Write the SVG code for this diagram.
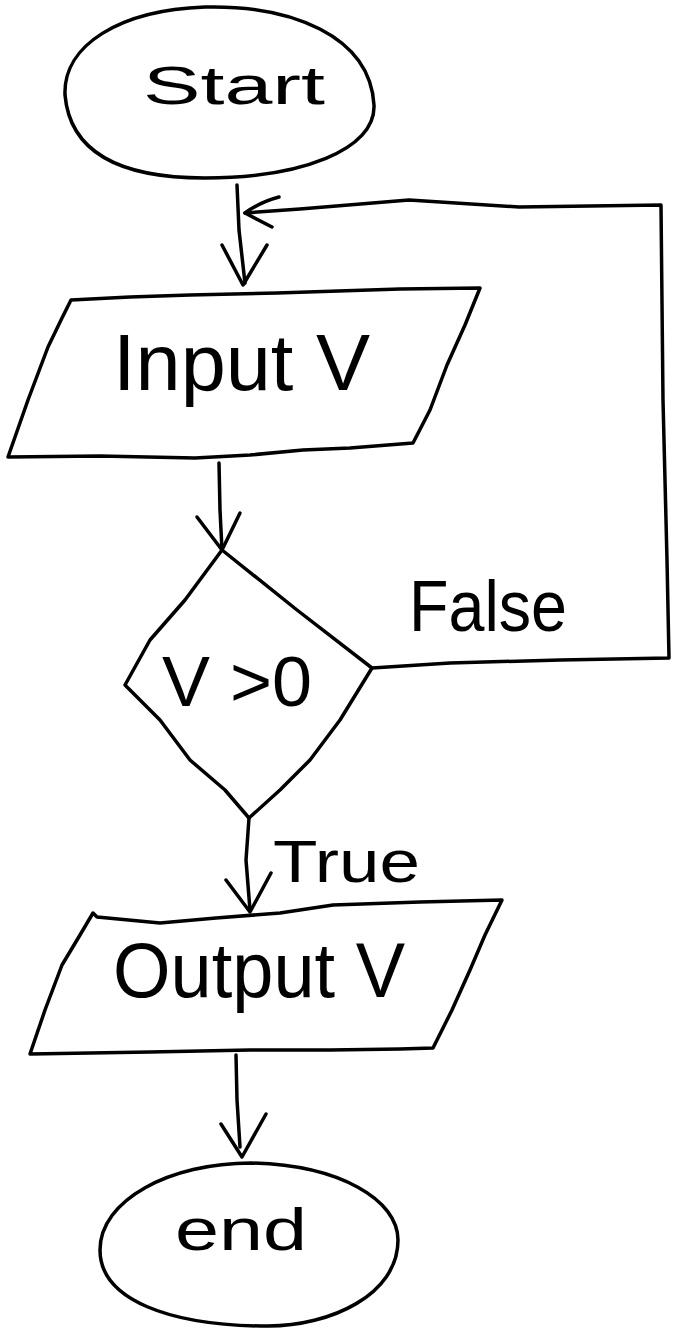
<svg xmlns="http://www.w3.org/2000/svg" width="676" height="1333" viewBox="0 0 676 1333">
<style>
.s{fill:none;stroke:#000;stroke-width:3.5;stroke-linecap:round;stroke-linejoin:round}
.t{font-family:"Liberation Sans","DejaVu Sans",sans-serif;fill:#000}
</style>
<rect width="676" height="1333" fill="#fff"/>
<g id="start">
<path class="s" d="M65,95 C63,45 120,10 205,7 C290,5 370,35 374,105 C376,150 300,178 205,178 C120,178 70,152 65,95 Z"/>
<text class="t" x="143" y="104" font-size="54" textLength="182" lengthAdjust="spacingAndGlyphs">Start</text>
</g>
<g id="input">
<path class="s" d="M71,300 L130,297 L190,295 L277,293 L400,289 L480,288 L465,325 L447,365 L430,410 L413,443 L350,448 L303,450 L250,455 L195,458 L100,456 L8,457 L28,400 L48,347 L62,318 Z"/>
<text class="t" x="113" y="390" font-size="80" textLength="257" lengthAdjust="spacingAndGlyphs">Input V</text>
</g>
<g id="decision">
<path class="s" d="M222,550 L297,610 L372,668 L340,720 L310,760 L280,790 L249,818 L225,790 L190,760 L160,720 L125,685 L150,640 L185,600 Z"/>
<text class="t" x="162" y="706" font-size="70" textLength="150" lengthAdjust="spacingAndGlyphs">V &gt;0</text>
</g>
<g id="output">
<path class="s" d="M93,913 L97,917 L160,923 L216,918 L280,913 L333,905 L420,902 L502,900 L485,935 L470,970 L452,1010 L433,1048 L400,1049 L330,1050 L250,1050 L150,1052 L30,1054 L45,1010 L62,965 L80,935 Z"/>
<text class="t" x="113" y="997" font-size="78" textLength="292" lengthAdjust="spacingAndGlyphs">Output V</text>
</g>
<g id="end">
<path class="s" d="M100,1250 C100,1200 170,1163 251,1163 C340,1165 398,1200 398,1240 C398,1295 330,1326 268,1326 C170,1326 100,1300 100,1250 Z"/>
<text class="t" x="175" y="1250" font-size="60" textLength="132" lengthAdjust="spacingAndGlyphs">end</text>
</g>
<g id="connectors">
<path class="s" d="M237,185 L239,230 L245,283"/>
<path class="s" d="M222,245 L243,285 L267,245"/>
<path class="s" d="M372,668 L450,663 L560,660 L669,658 L667,560 L663,400 L661,205 L519,207 L409,200 L300,209 L245,213"/>
<path class="s" d="M279,197 Q260,202 245,213 L272,227"/>
<path class="s" d="M219,463 L220,510 L222,550"/>
<path class="s" d="M197,517 L222,550 L240,513"/>
<path class="s" d="M249,818 L246,860 L250,910"/>
<path class="s" d="M226,880 L250,912 L271,873"/>
<path class="s" d="M236,1055 L237,1100 L240,1147"/>
<path class="s" d="M221,1124 L242,1157 L266,1114"/>
<text class="t" x="409" y="631" font-size="72" textLength="158" lengthAdjust="spacingAndGlyphs">False</text>
<text class="t" x="273" y="882" font-size="60" textLength="147" lengthAdjust="spacingAndGlyphs">True</text>
</g>
</svg>
